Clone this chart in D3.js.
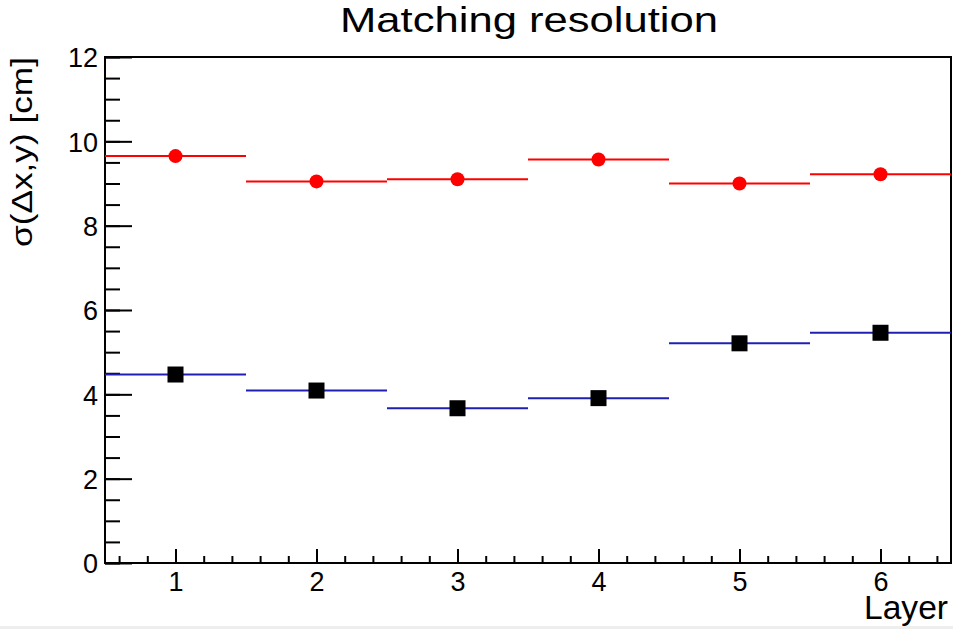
<!DOCTYPE html>
<html>
<head>
<meta charset="utf-8">
<title>Matching resolution</title>
<script src="https://d3js.org/d3.v7.min.js"></script>
<style>
  body { margin: 0; background: #fff; }
  text { font-family: "Liberation Sans", Arial, Helvetica, sans-serif; fill: #000; }
  .domain { display: none; }
  .tick line { stroke: #000; stroke-width: 2; }
</style>
</head>
<body>
<svg width="953" height="629"></svg>
<script>
// values
var layers = [1, 2, 3, 4, 5, 6];
var redValues = [9.65, 9.05, 9.10, 9.57, 9.00, 9.22];
var blueValues = [4.47, 4.09, 3.67, 3.91, 5.21, 5.46];
var yTicks = [0, 2, 4, 6, 8, 10, 12];
var xTicks = [1, 2, 3, 4, 5, 6];

var svg = d3.select("svg");
var padL = 105, padR = 951, padT = 57, padB = 563;

var x = d3.scaleLinear().domain([0.5, 6.5]).range([padL, padR]);
var y = d3.scaleLinear().domain([0, 12]).range([padB, padT]);

// minor ticks
var yMinor = d3.range(0, 12.01, 0.5);
var xMinor = d3.range(0.6, 6.45, 0.2);

svg.append("g").attr("transform", "translate(" + padL + ",0)")
  .call(d3.axisLeft(y).tickValues(yMinor).tickSize(-15).tickFormat(""));
svg.append("g").attr("transform", "translate(" + padL + ",0)")
  .call(d3.axisLeft(y).tickValues(yTicks).tickSize(-27).tickPadding(7).tickFormat(d3.format("d")))
  .selectAll("text").style("font-size", "27px").attr("dy", "0.36em");

svg.append("g").attr("transform", "translate(0," + padB + ")")
  .call(d3.axisBottom(x).tickValues(xMinor).tickSize(-7).tickFormat(""));
svg.append("g").attr("transform", "translate(0," + padB + ")")
  .call(d3.axisBottom(x).tickValues(xTicks).tickSize(-14).tickPadding(9).tickFormat(d3.format("d")))
  .selectAll("text").style("font-size", "27px").attr("dy", "0.71em");

// frame
svg.append("rect")
  .attr("x", padL).attr("y", padT)
  .attr("width", padR - padL).attr("height", padB - padT)
  .attr("fill", "none").attr("stroke", "#000").attr("stroke-width", 2);

// histogram lines
svg.append("g").selectAll("line").data(blueValues).enter().append("line")
  .attr("x1", function(d, i) { return x(layers[i] - 0.5); })
  .attr("x2", function(d, i) { return x(layers[i] + 0.5); })
  .attr("y1", function(d) { return y(d); })
  .attr("y2", function(d) { return y(d); })
  .attr("stroke", "#2020b0").attr("stroke-width", 2);

svg.append("g").selectAll("line").data(redValues).enter().append("line")
  .attr("x1", function(d, i) { return x(layers[i] - 0.5); })
  .attr("x2", function(d, i) { return x(layers[i] + 0.5); })
  .attr("y1", function(d) { return y(d); })
  .attr("y2", function(d) { return y(d); })
  .attr("stroke", "#ff0000").attr("stroke-width", 2);

// markers
svg.append("g").selectAll("rect").data(blueValues).enter().append("rect")
  .attr("x", function(d, i) { return x(layers[i]) - 8; })
  .attr("y", function(d) { return y(d) - 8; })
  .attr("width", 16).attr("height", 16)
  .attr("fill", "#000");

svg.append("g").selectAll("circle").data(redValues).enter().append("circle")
  .attr("cx", function(d, i) { return x(layers[i]); })
  .attr("cy", function(d) { return y(d); })
  .attr("r", 7)
  .attr("fill", "#ff0000");

// titles
svg.append("text").attr("x", 340).attr("y", 32)
  .style("font-size", "35px")
  .attr("textLength", 378).attr("lengthAdjust", "spacingAndGlyphs")
  .text("Matching resolution");

svg.append("text").attr("x", 864).attr("y", 619)
  .style("font-size", "34px")
  .attr("textLength", 84).attr("lengthAdjust", "spacingAndGlyphs")
  .text("Layer");

svg.append("text")
  .attr("transform", "translate(32,247) rotate(-90)")
  .style("font-size", "30px")
  .attr("textLength", 190).attr("lengthAdjust", "spacingAndGlyphs")
  .text("σ(Δx,y) [cm]");

// light strip at the very bottom
svg.append("rect").attr("x", 0).attr("y", 626).attr("width", 953).attr("height", 3)
  .attr("fill", "#eeeeee");
</script>
</body>
</html>
